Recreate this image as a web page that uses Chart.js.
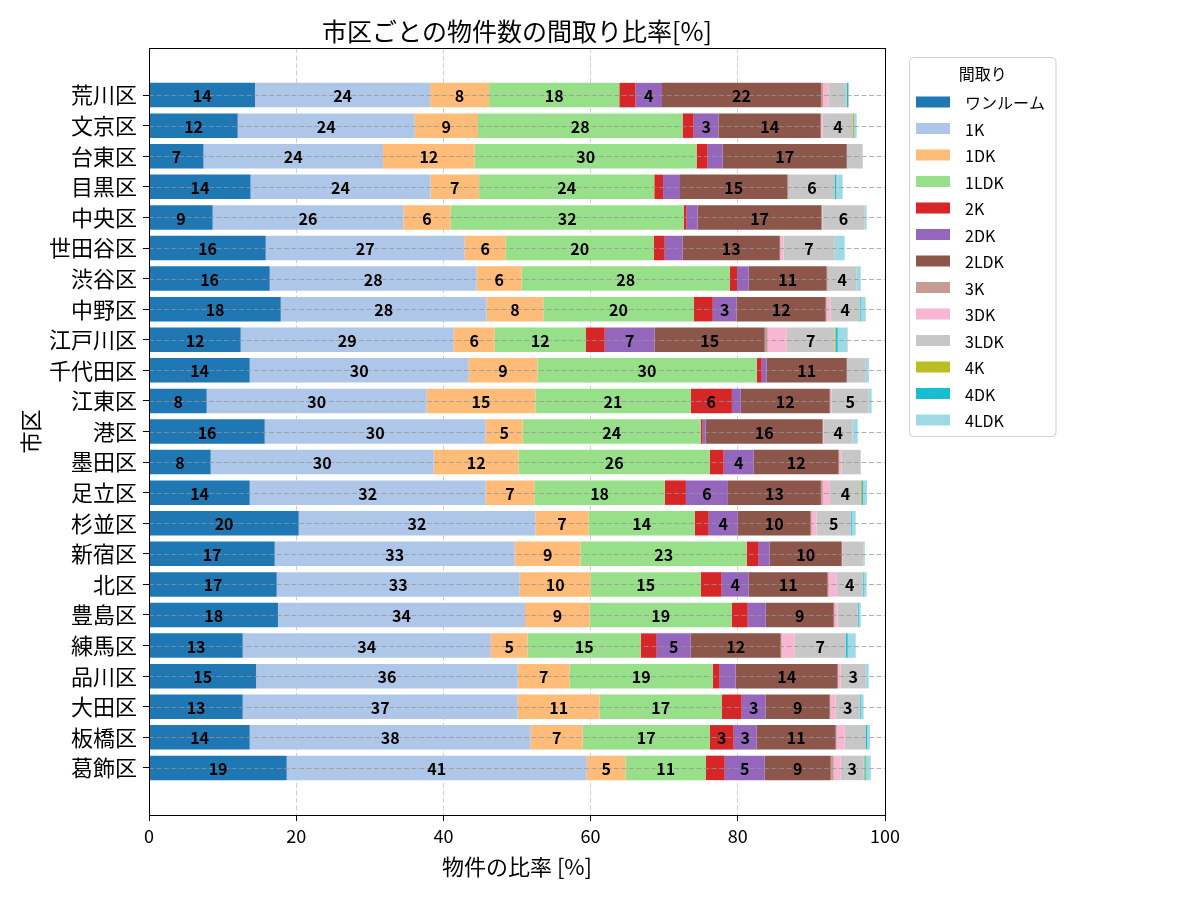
<!DOCTYPE html>
<html>
<head>
<meta charset="utf-8">
<script src="https://cdn.jsdelivr.net/npm/chart.js"></script>
<style>
  body { margin: 0; background: #fff; }
  canvas { display: block; }
</style>
</head>
<body>
<canvas id="chart" width="1200" height="900"></canvas>
<script>
// 市区 (top to bottom)
const cities = ['荒川区', '文京区', '台東区', '目黒区', '中央区', '世田谷区', '渋谷区', '中野区',
  '江戸川区', '千代田区', '江東区', '港区', '墨田区', '足立区', '杉並区', '新宿区', '北区',
  '豊島区', '練馬区', '品川区', '大田区', '板橋区', '葛飾区'];

const layouts = ['ワンルーム', '1K', '1DK', '1LDK', '2K', '2DK', '2LDK', '3K', '3DK', '3LDK', '4K', '4DK', '4LDK'];
const colors = ['#1f77b4', '#aec7e8', '#ffbb78', '#98df8a', '#d62728', '#9467bd', '#8c564b',
  '#c49c94', '#f7b6d2', '#c7c7c7', '#bcbd22', '#17becf', '#9edae5'];

// 物件の比率 [%] per layout, same order as cities
const oneRoom = [14.4, 12.05, 7.4, 13.8, 8.65, 15.86, 16.4, 17.9, 12.46, 13.68, 7.84, 15.72, 8.38, 13.68, 20.34, 17.08, 17.35, 17.52, 12.73, 14.55, 12.73, 13.68, 18.71];
const k1 = [23.8, 24.05, 24.4, 24.45, 25.9, 27.04, 28.12, 27.98, 28.94, 29.76, 29.89, 30.03, 30.3, 32.07, 32.16, 32.61, 33.02, 33.57, 33.7, 35.55, 37.37, 38.18, 40.76];
const dk1 = [8.0, 8.6, 12.45, 6.6, 6.44, 5.57, 6.12, 7.7, 5.57, 9.33, 14.77, 5.02, 11.55, 6.6, 7.24, 8.96, 9.64, 8.79, 5.02, 7.06, 11.14, 7.07, 5.3];
const ldk1 = [17.7, 27.8, 30.15, 23.8, 31.65, 20.1, 28.26, 20.42, 12.36, 29.8, 21.1, 24.19, 25.95, 17.75, 14.4, 22.56, 14.95, 19.29, 15.36, 19.43, 16.57, 17.25, 10.87];
const k2 = [2.2, 1.5, 1.5, 1.2, 0.4, 1.5, 1.0, 2.6, 2.59, 0.68, 5.6, 0.27, 1.9, 2.85, 1.91, 1.63, 2.85, 2.18, 2.17, 0.95, 2.72, 3.26, 2.58];
const dk2 = [3.6, 3.4, 2.05, 2.3, 1.5, 2.43, 1.58, 3.25, 6.78, 0.68, 1.2, 0.41, 4.08, 5.71, 3.94, 1.49, 3.67, 2.44, 4.62, 2.17, 3.26, 3.13, 5.44];
const ldk2 = [21.6, 13.86, 16.85, 14.6, 16.85, 13.2, 10.6, 12.09, 14.96, 10.87, 12.09, 15.89, 11.54, 12.63, 9.91, 9.79, 10.73, 9.24, 12.23, 13.86, 8.7, 10.73, 8.96];
const k3 = [0.3, 0.05, 0, 0.15, 0, 0.1, 0.12, 0.14, 0.4, 0, 0.13, 0.07, 0.1, 0.27, 0.14, 0.07, 0.14, 0.14, 0.13, 0, 0.11, 0.14, 0.41];
const dk3 = [0.7, 0.24, 0, 0.05, 0.1, 0.4, 0, 0.52, 2.58, 0, 0.14, 0.07, 0.32, 0.96, 0.68, 0.07, 1.09, 0.4, 1.77, 0.41, 0.7, 1.08, 0.95];
const ldk3 = [2.5, 4.1, 2.17, 6.25, 5.74, 6.97, 3.95, 3.96, 6.53, 2.58, 5.03, 3.93, 2.58, 4.21, 4.62, 2.85, 3.53, 2.72, 6.93, 3.4, 3.26, 2.9, 3.12];
const k4 = [0, 0.15, 0, 0, 0, 0, 0, 0, 0.13, 0, 0, 0, 0, 0.13, 0, 0, 0, 0, 0, 0, 0, 0, 0.14];
const dk4 = [0.2, 0, 0, 0.15, 0, 0, 0, 0.14, 0.27, 0, 0, 0, 0, 0.14, 0.14, 0, 0.13, 0.14, 0.27, 0, 0.14, 0.14, 0.14];
const ldk4 = [0.1, 0.35, 0, 0.9, 0.27, 1.35, 0.55, 0.68, 1.36, 0.42, 0.4, 0.69, 0, 0.54, 0.54, 0.14, 0.4, 0.27, 1.09, 0.41, 0.4, 0.41, 0.68];

const series = [oneRoom, k1, dk1, ldk1, k2, dk2, ldk2, k3, dk3, ldk3, k4, dk4, ldk4];
const xTicks = [0, 20, 40, 60, 80, 100];

const FONT = "'Noto Sans CJK JP', 'Noto Sans', sans-serif";
Chart.defaults.font.family = FONT;
Chart.defaults.color = '#000';

const datasets = layouts.map((name, d) => ({
  label: name,
  data: series[d].map((v, i) => ({ x: v, y: i })),
  backgroundColor: colors[d],
  borderWidth: 0,
  categoryPercentage: 1.0,
  barPercentage: 0.8
}));

// grid lines over the bars, value labels, frame, title and legend box
const overlay = {
  id: 'overlay',
  afterDatasetsDraw(chart) {
    const ctx = chart.ctx;
    const area = chart.chartArea;
    const yScale = chart.scales.y;
    ctx.save();
    ctx.strokeStyle = 'rgba(150,150,150,0.75)';
    ctx.lineWidth = 1;
    ctx.setLineDash([5, 2.5]);
    yScale.ticks.forEach(t => {
      const py = Math.round(yScale.getPixelForValue(t.value)) + 0.5;
      ctx.beginPath();
      ctx.moveTo(area.left, py);
      ctx.lineTo(area.right, py);
      ctx.stroke();
    });
    ctx.setLineDash([]);

    ctx.font = 'bold 16px ' + FONT;
    ctx.fillStyle = '#000';
    ctx.textAlign = 'center';
    ctx.textBaseline = 'middle';
    chart.data.datasets.forEach((ds, d) => {
      const meta = chart.getDatasetMeta(d);
      meta.data.forEach((bar, i) => {
        const v = ds.data[i].x;
        if (v >= 3) {
          const c = bar.getCenterPoint();
          ctx.fillText(String(Math.round(v)), c.x, c.y + 1);
        }
      });
    });
    ctx.restore();
  },
  afterDraw(chart) {
    const ctx = chart.ctx;
    const area = chart.chartArea;
    ctx.save();
    ctx.strokeStyle = '#000';
    ctx.lineWidth = 1;
    ctx.strokeRect(Math.round(area.left) + 0.5, Math.round(area.top) + 0.5,
      Math.round(area.right - area.left), Math.round(area.bottom - area.top));

    ctx.fillStyle = '#000';
    ctx.textAlign = 'center';
    ctx.textBaseline = 'middle';
    ctx.font = '25px ' + FONT;
    ctx.fillText('市区ごとの物件数の間取り比率[%]', (area.left + area.right) / 2, 31);

    // legend
    const lx = 909.5, ly = 57.5, lw = 146.5, lh = 379;
    ctx.beginPath();
    ctx.roundRect(lx, ly, lw, lh, 4);
    ctx.fillStyle = 'rgba(255,255,255,0.8)';
    ctx.fill();
    ctx.strokeStyle = '#d0d0d0';
    ctx.stroke();
    ctx.fillStyle = '#000';
    ctx.font = '16px ' + FONT;
    ctx.fillText('間取り', lx + lw / 2, 74);
    ctx.textAlign = 'left';
    chart.data.datasets.forEach((ds, d) => {
      const cy = 102 + d * 26.5;
      ctx.fillStyle = ds.backgroundColor;
      ctx.fillRect(916, cy - 5.5, 34, 11);
      ctx.fillStyle = '#000';
      ctx.fillText(ds.label, 965, cy + 1);
    });
    ctx.restore();
  }
};

new Chart(document.getElementById('chart'), {
  type: 'bar',
  data: { datasets },
  options: {
    indexAxis: 'y',
    responsive: false,
    devicePixelRatio: 1,
    animation: false,
    layout: { padding: { left: 0, top: 48, right: 315, bottom: 0 } },
    plugins: {
      legend: { display: false },
      tooltip: { enabled: false }
    },
    scales: {
      x: {
        type: 'linear',
        stacked: true,
        bounds: 'data',
        min: 0,
        max: 100,
        afterBuildTicks: axis => { axis.ticks = xTicks.map(v => ({ value: v })); },
        afterFit: axis => { axis.height = 85; },
        border: { display: false, dash: [5, 2.5] },
        grid: {
          color: '#d0d0d0',
          lineWidth: 1,
          tickColor: '#000',
          tickLength: 6,
          tickBorderDash: []
        },
        ticks: { font: { size: 18 }, padding: 4, color: '#000' },
        title: {
          display: true,
          text: '物件の比率 [%]',
          font: { size: 22 },
          padding: { top: 0, bottom: 20 }
        }
      },
      y: {
        type: 'linear',
        stacked: true,
        reverse: true,
        bounds: 'data',
        offset: false,
        min: -1.54,
        max: 23.54,
        afterBuildTicks: axis => { axis.ticks = cities.map((c, i) => ({ value: i })); },
        afterFit: axis => { axis.width = 149; },
        border: { display: false },
        grid: {
          offset: false,
          drawOnChartArea: false,
          tickColor: '#000',
          tickLength: 6
        },
        ticks: {
          autoSkip: false,
          font: { size: 22 },
          padding: 6,
          color: '#000',
          callback: v => cities[v]
        },
        title: {
          display: true,
          text: '市区',
          font: { size: 22 },
          padding: { top: 17, bottom: 0 }
        }
      }
    }
  },
  plugins: [overlay]
});
</script>
</body>
</html>
